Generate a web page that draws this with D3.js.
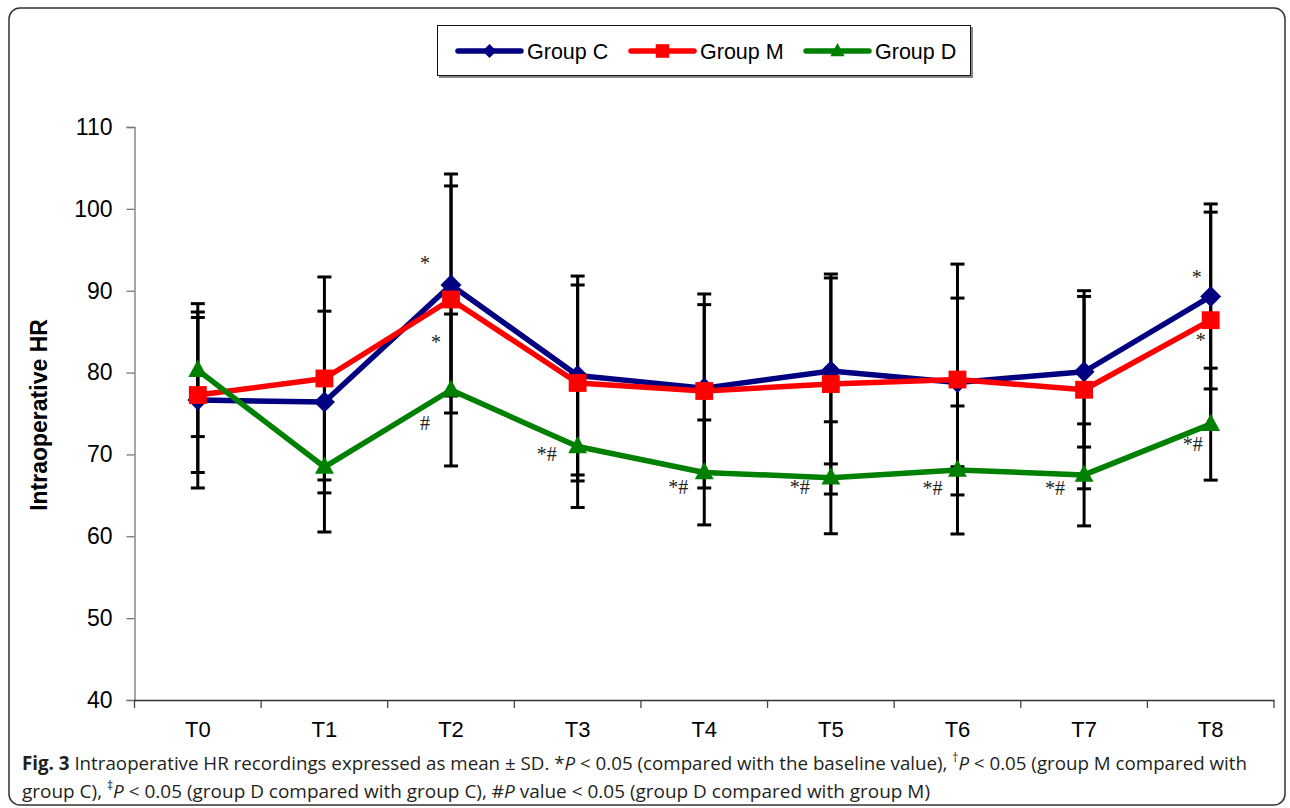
<!DOCTYPE html>
<html>
<head>
<meta charset="utf-8">
<script src="https://cdn.jsdelivr.net/npm/d3@7"></script>
<style>
  html, body { margin: 0; padding: 0; background: #fff; }
  svg { display: block; }
</style>
</head>
<body>
<svg id="chart" width="1290" height="808"></svg>
<script>
// ---------- data ----------
const categories = ["T0","T1","T2","T3","T4","T5","T6","T7","T8"];
const yTicks = [40,50,60,70,80,90,100,110];

const groupNames = ["Group C","Group M","Group D"];
const meanC = [76.65, 76.4, 90.7, 79.64, 78.1, 80.2, 78.8, 80.1, 89.3];
const sdC   = [10.75, 11.1, 13.56, 12.15, 10.2, 11.36, 10.3, 9.2, 11.3];
const meanM = [77.26, 79.28, 88.93, 78.73, 77.75, 78.6, 79.15, 77.9, 86.4];
const sdM   = [9.47, 12.4, 13.87, 11.97, 11.85, 13.44, 14.1, 12.1, 13.2];
const meanD = [80.3, 68.46, 77.87, 70.97, 67.8, 67.15, 68.1, 67.5, 73.7];
const sdD   = [8.12, 7.94, 9.28, 7.45, 6.41, 6.84, 7.82, 6.23, 6.84];

// significance marks: category, label, value-position of the mark
const annotCat   = ["T2","T2","T2","T3","T4","T5","T6","T7","T8","T8","T8"];
const annotLabel = ["*","*","#","*#","*#","*#","*#","*#","*","*","*#"];
const annotValue = [93.5, 83.86, 73.96, 70.17, 66.14, 66.14, 66.02, 66.02, 91.8, 84.1, 71.4];
const annotDx    = [-26, -15, -26, -31, -26, -31, -25, -29, -14, -10, -18];

// ---------- styles ----------
const colors = ["#000080", "#FF0000", "#008000"];
const shapes = ["diamond", "square", "triangle"];

const series = [
  {name: groupNames[0], mean: meanC, sd: sdC, color: colors[0], shape: shapes[0]},
  {name: groupNames[1], mean: meanM, sd: sdM, color: colors[1], shape: shapes[1]},
  {name: groupNames[2], mean: meanD, sd: sdD, color: colors[2], shape: shapes[2]}
];

const svg = d3.select("#chart");

// outer frame
svg.append("rect")
  .attr("x", 9).attr("y", 8).attr("width", 1276).attr("height", 797)
  .attr("rx", 11).attr("ry", 11)
  .attr("fill", "#fff").attr("stroke", "#333").attr("stroke-width", 1.5);

const x = d3.scaleBand().domain(categories).range([134.5, 1274]).padding(0);
const y = d3.scaleLinear().domain([40, 110]).range([700, 127]);
const cx = c => x(c) + x.bandwidth() / 2;

// y axis
const yAxis = svg.append("g").attr("transform", "translate(134.5,0)")
  .call(d3.axisLeft(y).tickValues(yTicks).tickSize(8).tickPadding(14));
yAxis.select(".domain").attr("stroke", "#777").attr("stroke-width", 1.3);
yAxis.selectAll(".tick line").attr("stroke", "#777").attr("stroke-width", 1.3);
yAxis.selectAll(".tick text")
  .attr("font-family", "Liberation Sans, Arial, sans-serif")
  .attr("font-size", 23).attr("fill", "#000");

// x axis
const xAxis = svg.append("g").attr("transform", "translate(0,700)")
  .call(d3.axisBottom(x).tickSize(0).tickPadding(21));
xAxis.select(".domain").attr("stroke", "#333").attr("stroke-width", 1.5);
xAxis.selectAll(".tick text")
  .attr("font-family", "Liberation Sans, Arial, sans-serif")
  .attr("font-size", 22).attr("fill", "#000");
// boundary ticks between categories
const bounds = categories.map(c => x(c)).concat([x(categories[categories.length-1]) + x.bandwidth()]);
svg.append("g").selectAll("line").data(bounds).join("line")
  .attr("x1", d => d).attr("x2", d => d)
  .attr("y1", 700).attr("y2", 708)
  .attr("stroke", "#444").attr("stroke-width", 1.3);

// y axis title
svg.append("text")
  .attr("transform", "translate(47,415) rotate(-90)")
  .attr("text-anchor", "middle")
  .attr("font-family", "Liberation Sans, Arial, sans-serif")
  .attr("font-weight", "bold").attr("font-size", 23)
  .text("Intraoperative HR");

// error bars
const capW = 7;
const eb = svg.append("g");
series.forEach(s => {
  categories.forEach((c, i) => {
    const px = cx(c), hi = y(s.mean[i] + s.sd[i]), lo = y(s.mean[i] - s.sd[i]);
    eb.append("line").attr("x1", px).attr("x2", px).attr("y1", hi).attr("y2", lo)
      .attr("stroke", "#000").attr("stroke-width", 3);
    [hi, lo].forEach(yy => eb.append("line")
      .attr("x1", px - capW).attr("x2", px + capW).attr("y1", yy).attr("y2", yy)
      .attr("stroke", "#000").attr("stroke-width", 3));
  });
});

// lines + markers
function markerPath(shape, size) {
  if (shape === "diamond") {
    const h = size;
    return `M0,${-h}L${h},0L0,${h}L${-h},0Z`;
  } else if (shape === "square") {
    const h = size * 0.85;
    return `M${-h},${-h}H${h}V${h}H${-h}Z`;
  } else {
    const h = size;
    return `M0,${-h}L${h * 0.9},${h * 0.65}L${-h * 0.9},${h * 0.65}Z`;
  }
}

const line = d3.line().x((d, i) => cx(categories[i])).y(d => y(d));
series.forEach(s => {
  svg.append("path").datum(s.mean)
    .attr("d", line).attr("fill", "none")
    .attr("stroke", s.color).attr("stroke-width", 5.5)
    .attr("stroke-linejoin", "round");
  svg.append("g").selectAll("path").data(s.mean).join("path")
    .attr("transform", (d, i) => `translate(${cx(categories[i])},${y(d)})`)
    .attr("d", markerPath(s.shape, 10.5))
    .attr("fill", s.color);
});

// annotations
svg.append("g").selectAll("text").data(annotLabel).join("text")
  .attr("x", (d, i) => cx(annotCat[i]) + annotDx[i])
  .attr("y", (d, i) => y(annotValue[i]) + 8)
  .attr("text-anchor", "middle")
  .attr("font-family", "Liberation Serif, Times New Roman, serif")
  .attr("font-size", 20).attr("fill", "#222")
  .text(d => d);

// legend
const lg = svg.append("g");
lg.append("rect").attr("x", 439).attr("y", 27).attr("width", 534).attr("height", 51).attr("fill", "#888");
lg.append("rect").attr("x", 437.5).attr("y", 25.5).attr("width", 533).attr("height", 50)
  .attr("fill", "#fff").attr("stroke", "#111").attr("stroke-width", 1);
const legX = [458, 631, 806];
series.forEach((s, i) => {
  const g = lg.append("g").attr("transform", `translate(${legX[i]},51)`);
  g.append("line").attr("x1", 0).attr("x2", 63).attr("y1", 0).attr("y2", 0)
    .attr("stroke", s.color).attr("stroke-width", 5.5).attr("stroke-linecap", "round");
  g.append("path").attr("transform", "translate(31.5,0)")
    .attr("d", markerPath(s.shape, s.shape === "diamond" ? 7 : 8)).attr("fill", s.color);
  g.append("text").attr("x", 69).attr("y", 7.5)
    .attr("font-family", "Liberation Sans, Arial, sans-serif")
    .attr("font-size", 21.5).attr("fill", "#000")
    .text(s.name);
});

// caption
const cap = svg.append("g")
  .attr("font-family", "Open Sans, sans-serif")
  .attr("font-size", 19).attr("fill", "#231F20");
const l1 = cap.append("text").attr("x", 22).attr("y", 770)
  .attr("textLength", 1225).attr("lengthAdjust", "spacingAndGlyphs");
l1.append("tspan").attr("font-weight", "bold").text("Fig. 3");
l1.append("tspan").text(" Intraoperative HR recordings expressed as mean ± SD. *");
l1.append("tspan").attr("font-style", "italic").text("P");
l1.append("tspan").text(" < 0.05 (compared with the baseline value), ");
l1.append("tspan").attr("font-size", 12).attr("baseline-shift", "super").text("†");
l1.append("tspan").attr("font-style", "italic").text("P");
l1.append("tspan").text(" < 0.05 (group M compared with");

const l2 = cap.append("text").attr("x", 22).attr("y", 798)
  .attr("textLength", 908).attr("lengthAdjust", "spacingAndGlyphs");
l2.append("tspan").text("group C), ");
l2.append("tspan").attr("font-size", 12).attr("baseline-shift", "super").text("‡");
l2.append("tspan").attr("font-style", "italic").text("P");
l2.append("tspan").text(" < 0.05 (group D compared with group C), #");
l2.append("tspan").attr("font-style", "italic").text("P");
l2.append("tspan").text(" value < 0.05 (group D compared with group M)");
</script>
</body>
</html>
